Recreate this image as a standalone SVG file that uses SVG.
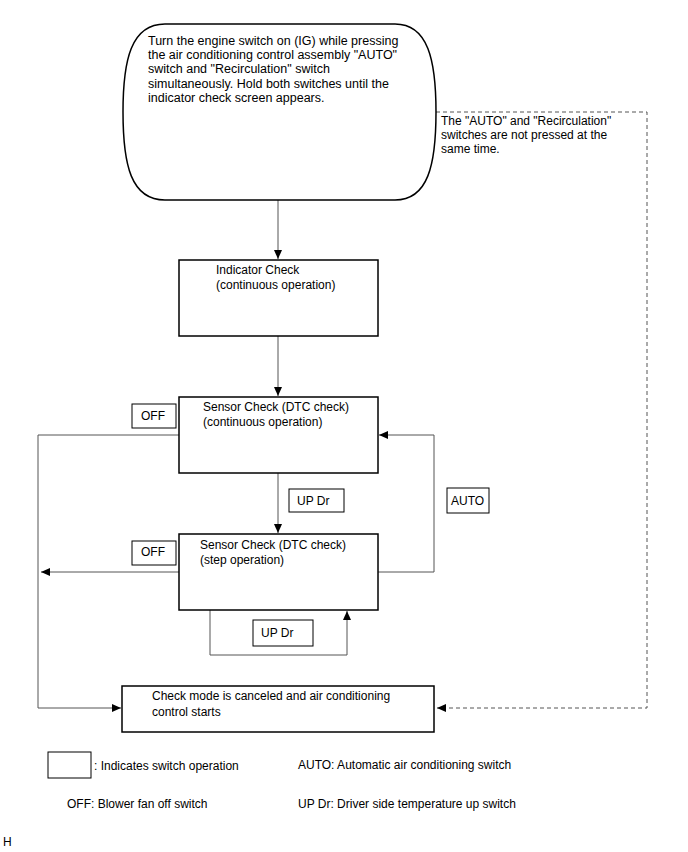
<svg xmlns="http://www.w3.org/2000/svg" width="688" height="852" viewBox="0 0 688 852">
<defs>
<marker id="ah" markerUnits="userSpaceOnUse" markerWidth="10" markerHeight="8" refX="9" refY="4" orient="auto">
<path d="M0,0 L9,4 L0,8 Z" fill="#000"/>
</marker>
<style>
text{font-family:"Liberation Sans",Arial,sans-serif;font-size:12px;fill:#000}
.big{font-size:12.5px}
.box{fill:#fff;stroke:#000;stroke-width:1.5}
.sw{fill:#fff;stroke:#000;stroke-width:1}
.ln{fill:none;stroke:#555;stroke-width:1}
.dash{fill:none;stroke:#555;stroke-width:1;stroke-dasharray:4,3}
</style>
</defs>
<rect width="688" height="852" fill="#fff"/>
<g id="connectors">
<line class="ln" x1="278" y1="200" x2="278" y2="259" marker-end="url(#ah)"/>
<line class="ln" x1="278" y1="336" x2="278" y2="396" marker-end="url(#ah)"/>
<line class="ln" x1="278" y1="473" x2="278" y2="533" marker-end="url(#ah)"/>
<polyline class="ln" points="179,435 38,435 38,708 121,708" marker-end="url(#ah)"/>
<line class="ln" x1="179" y1="572" x2="41" y2="572" marker-end="url(#ah)"/>
<polyline class="ln" points="378,572 434,572 434,435 379,435" marker-end="url(#ah)"/>
<polyline class="ln" points="210,610 210,655 347,655 347,611" marker-end="url(#ah)"/>
<polyline class="dash" points="436,112 647,112 647,708 437,708" marker-end="url(#ah)"/>
</g>
<g id="start">
<path class="box" d="M165,24 H395 C428,24 436,60 436,112 C436,165 428,200 395,200 H165 C131,200 123,165 123,112 C123,60 131,24 165,24 Z"/>
<text class="big" x="148" y="45">Turn the engine switch on (IG) while pressing</text>
<text class="big" x="148" y="59">the air conditioning control assembly "AUTO"</text>
<text class="big" x="148" y="73">switch and "Recirculation" switch</text>
<text class="big" x="148" y="88">simultaneously. Hold both switches until the</text>
<text class="big" x="148" y="102">indicator check screen appears.</text>
</g>
<g id="note">
<text x="441" y="125">The "AUTO" and "Recirculation"</text>
<text x="441" y="139">switches are not pressed at the</text>
<text x="441" y="153">same time.</text>
</g>
<g id="indicator">
<rect class="box" x="179" y="260" width="199" height="76"/>
<text x="216" y="274">Indicator Check</text>
<text x="216" y="289">(continuous operation)</text>
</g>
<g id="sensor-cont">
<rect class="box" x="179" y="397" width="199" height="76"/>
<text x="203" y="411">Sensor Check (DTC check)</text>
<text x="203" y="426">(continuous operation)</text>
</g>
<g id="sensor-step">
<rect class="box" x="179" y="534" width="199" height="76"/>
<text x="200" y="549">Sensor Check (DTC check)</text>
<text x="200" y="564">(step operation)</text>
</g>
<g id="end">
<rect class="box" x="122" y="686" width="312" height="46"/>
<text x="152" y="700">Check mode is canceled and air conditioning</text>
<text x="152" y="716">control starts</text>
</g>
<g id="sw-off1">
<rect class="sw" x="132" y="404" width="44" height="24"/>
<text x="141" y="420">OFF</text>
</g>
<g id="sw-off2">
<rect class="sw" x="132" y="541" width="44" height="24"/>
<text x="141" y="556">OFF</text>
</g>
<g id="sw-updr1">
<rect class="sw" x="289" y="489" width="55" height="23"/>
<text x="297" y="505">UP Dr</text>
</g>
<g id="sw-auto">
<rect class="sw" x="447" y="488" width="42" height="25"/>
<text x="451" y="505">AUTO</text>
</g>
<g id="sw-updr2">
<rect class="sw" x="253" y="620" width="60" height="26"/>
<text x="261" y="637">UP Dr</text>
</g>
<g id="legend">
<rect class="sw" x="48" y="752" width="43" height="26"/>
<text x="94" y="770">: Indicates switch operation</text>
<text x="298" y="769">AUTO: Automatic air conditioning switch</text>
<text x="67" y="808">OFF: Blower fan off switch</text>
<text x="298" y="808">UP Dr: Driver side temperature up switch</text>
<text x="3" y="846">H</text>
</g>
</svg>
